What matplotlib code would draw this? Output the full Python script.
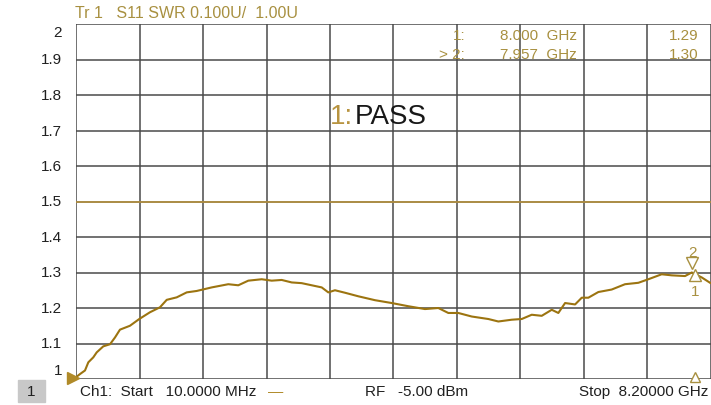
import numpy as np
import matplotlib.pyplot as plt

plt.rcParams['font.family'] = ['Liberation Sans', 'DejaVu Sans']

# S11 SWR trace (frequency in GHz)
freq = [0.010, 0.062, 0.126, 0.169, 0.233, 0.277, 0.362, 0.449, 0.513, 0.577,
        0.706, 0.826, 0.964, 1.093, 1.180, 1.309, 1.438, 1.567, 1.760, 1.974,
        2.103, 2.232, 2.405, 2.534, 2.663, 2.792, 2.921, 3.050, 3.179, 3.264,
        3.350, 3.479, 3.651, 3.866, 4.082, 4.296, 4.511, 4.683, 4.812, 4.941,
        5.114, 5.328, 5.457, 5.630, 5.759, 5.888, 6.017, 6.146, 6.231, 6.318,
        6.447, 6.533, 6.618, 6.747, 6.919, 7.091, 7.263, 7.392, 7.564, 7.693,
        7.865, 7.952, 8.081, 8.188]
swr = [1.005, 1.014, 1.024, 1.047, 1.061, 1.075, 1.092, 1.098, 1.117, 1.139,
       1.150, 1.169, 1.188, 1.202, 1.223, 1.230, 1.244, 1.248, 1.258, 1.267,
       1.264, 1.277, 1.281, 1.277, 1.279, 1.272, 1.270, 1.264, 1.258, 1.244,
       1.250, 1.243, 1.233, 1.222, 1.214, 1.205, 1.197, 1.200, 1.186, 1.186,
       1.176, 1.169, 1.162, 1.167, 1.169, 1.181, 1.178, 1.195, 1.186, 1.214,
       1.210, 1.229, 1.229, 1.245, 1.252, 1.267, 1.271, 1.281, 1.295, 1.292,
       1.290, 1.300, 1.286, 1.271]

f_start, f_stop = 0.010, 8.200
limit = 1.5
yticks = [1, 1.1, 1.2, 1.3, 1.4, 1.5, 1.6, 1.7, 1.8, 1.9, 2]
mk_freq = [8.000, 7.957]
mk_val = [1.29, 1.30]

trace_col = '#9c7410'
gold = '#a89040'

fig = plt.figure(figsize=(7.11, 4.06), dpi=100)
ax = fig.add_axes([76/711, 26/406, 640/711, 355/406])
ax.set_xlim(f_start, f_start + (f_stop - f_start) * 640/635)
ax.set_ylim(1, 2)

# grid 10 x 10 divisions
for k in range(11):
    ax.axvline(f_start + k * (f_stop - f_start) / 10, color='#4a4a4a', lw=1.1, zorder=1)
for v in yticks:
    ax.axhline(v, color='#4a4a4a', lw=1.1, zorder=1)
ax.axhline(limit, color='#b89440', lw=1.2, zorder=2)

ax.plot(freq, swr, color=trace_col, lw=1.5, zorder=3)

ax.set_xticks([])
ax.set_yticks([])
for s in ax.spines.values():
    s.set_visible(False)

# y labels
for v in yticks:
    txt = '%g' % v
    va = 'center'
    yy = v
    if v == 2:
        va, yy = 'top', 1.997
    if v == 1:
        va, yy = 'bottom', 1.005
    ax.text(-0.022, yy, txt, transform=ax.get_yaxis_transform(), ha='right', va=va,
            fontsize=11, color='#202020')

# markers
ax.plot(mk_freq[0], mk_val[0] + 0.003, marker='^', ms=8, mfc='white', mec=gold, mew=1, clip_on=False, zorder=4)
ax.plot(mk_freq[1], mk_val[1] + 0.027, marker='v', ms=8, mfc='white', mec=gold, mew=1, clip_on=False, zorder=4)
ax.text(mk_freq[1], 1.338, '2', color=gold, fontsize=11, ha='center', va='bottom')
ax.text(mk_freq[0], 1.268, '1', color=gold, fontsize=11, ha='center', va='top')
ax.plot(mk_freq[0], 1.006, marker='^', ms=7, mfc='white', mec=gold, mew=1, clip_on=False, zorder=4)
ax.plot(f_start - 0.04, 1.004, marker='>', ms=8, color='#b08a28', clip_on=False, zorder=5)

# header
fig.text(75/711, 1 - 14/406, 'Tr 1   S11 SWR 0.100U/  1.00U', color=gold, fontsize=11.5, va='center')

# marker readout
rows = [('1:', '8.000  GHz', '1.29', 36), ('> 2:', '7.957  GHz', '1.30', 55)]
for lab, fr, val, yp in rows:
    fig.text(465/711, 1 - yp/406, lab, color=gold, fontsize=11, ha='right', va='center')
    fig.text(500/711, 1 - yp/406, fr, color=gold, fontsize=11, ha='left', va='center')
    fig.text(698/711, 1 - yp/406, val, color=gold, fontsize=11, ha='right', va='center')

# PASS message
fig.text(330/711, 1 - 117/406, '1:', color='#b89440', fontsize=20, va='center')
fig.text(355/711, 1 - 117/406, 'PASS', color='#181818', fontsize=20, va='center')

# bottom status bar
fig.patches.append(plt.Rectangle((18/711, 3/406), 27/711, 22/406, transform=fig.transFigure,
                                 color='#c8c8c8', zorder=0))
fig.text(31/711, 14/406, '1', fontsize=11, ha='center', va='center', color='#202020')
fig.text(80/711, 14/406, 'Ch1:  Start   10.0000 MHz', fontsize=11, va='center', color='#202020')
fig.text(268/711, 14/406, '\u2014', fontsize=11, va='center', color='#b08a28')
fig.text(365/711, 14/406, 'RF   -5.00 dBm', fontsize=11, va='center', color='#202020')
fig.text(708/711, 14/406, 'Stop  8.20000 GHz', fontsize=11, ha='right', va='center', color='#202020')

fig.savefig('out.png', dpi=100, facecolor='white')
